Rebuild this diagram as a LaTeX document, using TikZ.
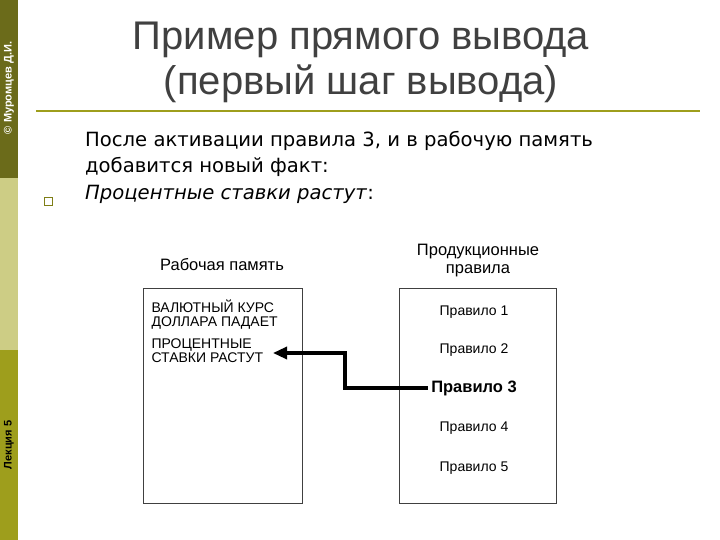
\documentclass[tikz,border=0pt]{standalone}
\usepackage{fontspec}
\setmainfont{Liberation Sans}
\newfontfamily\dejavu{DejaVu Sans}
\usetikzlibrary{arrows.meta}
\definecolor{oliveD}{HTML}{6B6B1A}
\definecolor{oliveL}{HTML}{CDCD85}
\definecolor{oliveM}{HTML}{9E9E1C}
\begin{document}
\begin{tikzpicture}[x=1pt,y=-1pt,
  box/.style={draw=black!75,line width=0.8pt},
  lab/.style={font=\fontsize{16.5}{18}\selectfont,align=center},
  rule/.style={font=\fontsize{14}{16}\selectfont}]
\useasboundingbox (0,0) rectangle (720,540);
\fill[oliveD] (0,0) rectangle (18,178);
\fill[oliveL] (0,178) rectangle (18,350);
\fill[oliveM] (0,350) rectangle (18,540);
\node[rotate=90,font=\bfseries\fontsize{11}{12}\selectfont,text=white] (s1) at (9,88) {© Муромцев Д.И.};
\node[rotate=90,font=\bfseries\fontsize{11}{12}\selectfont,text=black] (s2) at (9,445) {Лекция 5};
\draw[oliveM,line width=1.5pt] (36,111) -- (700,111);
\node[font=\fontsize{40}{45}\selectfont,align=center,text=black!75] (title) at (361,62) {Пример прямого вывода\\(первый шаг вывода)};
\node[draw=oliveM!80!black,line width=0.8pt,minimum size=8pt,inner sep=0pt] (bul) at (48,201) {};
\node[anchor=north west,font=\dejavu\fontsize{19.6}{26.5}\selectfont,align=left,inner sep=0pt] (body) at (85,131)
 {После активации правила 3, и в рабочую память\\добавится новый факт:\\\textit{Процентные ставки растут}:};
\node[box,minimum width=159pt,minimum height=215pt,anchor=north west] (wm) at (143,288) {};
\node[box,minimum width=157pt,minimum height=215pt,anchor=north west] (pr) at (399,288) {};
\node[lab] (wmt) at (222,265) {Рабочая память};
\node[lab] (prt) at (478,261) {Продукционные\\правила};
\node[anchor=north west,align=left,font=\fontsize{14}{14}\selectfont] (f1) at (148,296) {ВАЛЮТНЫЙ КУРС\\ДОЛЛАРА ПАДАЕТ};
\node[anchor=north west,align=left,font=\fontsize{14}{14}\selectfont] (f2) at (148,335) {ПРОЦЕНТНЫЕ\\СТАВКИ РАСТУТ};
\node[rule] (r1) at (474,312) {Правило 1};
\node[rule] (r2) at (474,350) {Правило 2};
\node[font=\bfseries\fontsize{16.5}{18}\selectfont] (r3) at (474,388) {Правило 3};
\node[rule] (r4) at (474,428) {Правило 4};
\node[rule] (r5) at (474,468) {Правило 5};
\draw[line width=3.2pt,-{Triangle[length=14pt,width=12pt]}] (r3.west) -- (345,388) -- (345,353) -- (273,353);
\end{tikzpicture}
\end{document}
